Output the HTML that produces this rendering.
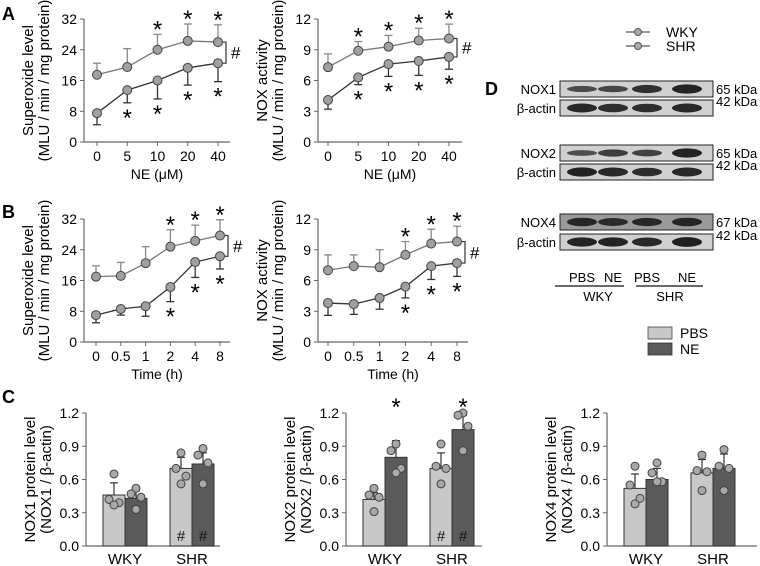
<!DOCTYPE html>
<html><head><meta charset="utf-8"><style>
body{margin:0;background:#fff;}
svg{display:block;font-family:"Liberation Sans",Arial,sans-serif;}
</style></head><body>
<svg id="fig" width="760" height="566" viewBox="0 0 760 566" xmlns="http://www.w3.org/2000/svg">
<g id="static">
<text x="2" y="20" font-size="18" font-weight="bold">A</text>
<text x="2" y="218" font-size="18" font-weight="bold">B</text>
<text x="2" y="403" font-size="18" font-weight="bold">C</text>
<text x="485" y="95" font-size="18" font-weight="bold">D</text>
<g>
<line x1="626" y1="32" x2="650" y2="32" stroke="#555" stroke-width="1.2"/><circle cx="638" cy="32" r="3.5" fill="#aaa" stroke="#555"/>
<text x="666" y="37" font-size="14">WKY</text>
<line x1="626" y1="46" x2="650" y2="46" stroke="#555" stroke-width="1.2"/><circle cx="638" cy="46" r="3.5" fill="#aaa" stroke="#555"/>
<text x="666" y="51" font-size="14">SHR</text>
</g>
<g>
<rect x="648" y="327" width="24" height="12" fill="#c8c8c8" stroke="#444" stroke-width="0.8"/>
<text x="680" y="338" font-size="14">PBS</text>
<rect x="648" y="343" width="24" height="12" fill="#5a5a5a" stroke="#333" stroke-width="0.8"/>
<text x="680" y="354" font-size="14">NE</text>
</g>
</g>
<g id="blots"></g>
<g id="charts"></g>
</svg>
<script>
const NS="http://www.w3.org/2000/svg";
// ---- Line chart data ----
const aDoses=["0","5","10","20","40"];
const aSupUpper=[17.5,19.5,24,26.3,26];
const aSupUpperErr=[3,4.8,4,4.4,4.5];
const aSupLower=[7.5,13.5,16,19.3,20.5];
const aSupLowerErr=[3,3.3,4.8,4.5,4.8];
const aNoxUpper=[7.3,8.9,9.3,9.9,10.1];
const aNoxUpperErr=[1.3,0.9,1.1,1.2,1.4];
const aNoxLower=[4.1,6.3,7.6,7.9,8.3];
const aNoxLowerErr=[0.9,0.7,1.2,1.4,1.2];
const bTimes=["0","0.5","1","2","4","8"];
const bSupUpper=[17,17.2,20.5,24.8,26.3,27.7];
const bSupUpperErr=[2.8,3.5,4.3,4.4,4.1,4.1];
const bSupLower=[7,8.6,9.3,14.3,20.8,22.3];
const bSupLowerErr=[2,1.6,2.6,3.8,4,3.3];
const bNoxUpper=[7,7.4,7.3,8.5,9.6,9.8];
const bNoxUpperErr=[1.5,1.1,1.7,1.3,1.4,1.5];
const bNoxLower=[3.8,3.7,4.3,5.4,7.4,7.7];
const bNoxLowerErr=[1.2,1,1.1,1.1,1.3,1.3];
const supTicks=[0,8,16,24,32];
const noxTicks=[0,3,6,9,12];
// ---- Bar chart data ----
const groups=["WKY","SHR"];
const barTicks=[0.0,0.3,0.6,0.9,1.2];
const nox1Means=[0.46,0.43,0.70,0.74];
const nox1Err=[0.11,0.07,0.10,0.10];
const nox1Dots=[[0.65,0.42,0.39,0.37],[0.52,0.47,0.44,0.33],[0.84,0.70,0.63,0.56],[0.88,0.82,0.75,0.56]];
const nox2Means=[0.42,0.80,0.70,1.05];
const nox2Err=[0.06,0.15,0.14,0.13];
const nox2Dots=[[0.52,0.46,0.44,0.31],[0.92,0.86,0.70,0.66],[0.92,0.72,0.70,0.56],[1.20,1.18,1.08,0.86]];
const nox4Means=[0.52,0.60,0.66,0.70];
const nox4Err=[0.13,0.10,0.12,0.13];
const nox4Dots=[[0.72,0.55,0.43,0.38],[0.75,0.66,0.58,0.58],[0.82,0.68,0.67,0.50],[0.87,0.72,0.70,0.50]];

const charts=document.getElementById('charts');
function el(tag,attrs,parent,text){const e=document.createElementNS(NS,tag);for(const k in attrs)e.setAttribute(k,attrs[k]);if(text!==undefined)e.textContent=text;(parent||charts).appendChild(e);return e;}
function star(g,x,cy){const t=el('text',{x:x,y:cy+13,'font-size':24,'text-anchor':'middle'},g,'*');

}

function lineChart(c){
 const g=el('g',{});
 
 
 const ys=v=>c.yBot-(v-c.ticks[0])/(c.ticks[c.ticks.length-1]-c.ticks[0])*(c.yBot-c.yTop);
 const step=(c.xLast-c.xFirst)/(c.cats.length-1);
 const xs=i=>c.xFirst+i*step;
 el('line',{x1:c.ax,y1:c.yTop,x2:c.ax,y2:c.yBot,stroke:'#666','stroke-width':1.2},g);
 el('line',{x1:c.ax,y1:c.yBot,x2:c.axEnd,y2:c.yBot,stroke:'#666','stroke-width':1.2},g);
 c.ticks.forEach(t=>{el('line',{x1:c.ax-4,y1:ys(t),x2:c.ax,y2:ys(t),stroke:'#666'},g);
  const tl=el('text',{x:c.ax-7,y:ys(t)+5,'font-size':14,'text-anchor':'end'},g,String(t));
  
  });
 c.cats.forEach((t,i)=>{el('line',{x1:xs(i),y1:c.yBot,x2:xs(i),y2:c.yBot+4,stroke:'#666'},g);
  const tl=el('text',{x:xs(i),y:c.yBot+19,'font-size':14,'text-anchor':'middle'},g,t);
  
  });
 const xt=el('text',{x:(c.ax+c.axEnd)/2,y:c.yBot+37,'font-size':14,'text-anchor':'middle'},g,c.xTitle);
 
 
 const my=(c.yTop+c.yBot)/2;
 const yt=el('text',{transform:`translate(${c.ax-51},${my}) rotate(-90)`,'font-size':15,'text-anchor':'middle'},g,c.yTitle1);
 
 
 const yt2=el('text',{transform:`translate(${c.ax-35},${my}) rotate(-90)`,'font-size':15,'text-anchor':'middle'},g,'(MLU / min / mg protein)');
 
 
 c.up.forEach((v,i)=>{const y2=ys(v+c.upErr[i]);el('line',{x1:xs(i),y1:ys(v),x2:xs(i),y2:y2,stroke:'#888','stroke-width':1.3},g);el('line',{x1:xs(i)-4,y1:y2,x2:xs(i)+4,y2:y2,stroke:'#888','stroke-width':1.3},g);});
 c.lo.forEach((v,i)=>{const y2=ys(v-c.loErr[i]);el('line',{x1:xs(i),y1:ys(v),x2:xs(i),y2:y2,stroke:'#333','stroke-width':1.3},g);el('line',{x1:xs(i)-4,y1:y2,x2:xs(i)+4,y2:y2,stroke:'#333','stroke-width':1.3},g);});
 [[c.up,'#777','series-shr'],[c.lo,'#333','series-wky']].forEach(([arr,col,nm])=>{
  const p=el('polyline',{points:arr.map((v,i)=>xs(i)+','+ys(v)).join(' '),fill:'none',stroke:col,'stroke-width':1.3},g);
  
  
  arr.forEach((v,i)=>{const pt=el('circle',{cx:xs(i),cy:ys(v),r:4.5,fill:'#a0a0a0',stroke:'#444','stroke-width':1},g);
   
   });
 });
 c.upStars.forEach(i=>star(g,xs(i),ys(c.up[i]+c.upErr[i])-10));
 c.loStars.forEach(i=>star(g,xs(i),ys(c.lo[i]-c.loErr[i])+10));
 const n=c.up.length-1, bx=xs(n)+8, y1=ys(c.up[n]), y2=ys(c.lo[n]);
 el('polyline',{points:`${bx-3},${y1} ${bx},${y1} ${bx},${y2} ${bx-3},${y2}`,fill:'none',stroke:'#333','stroke-width':1.2},g);
 const h=el('text',{x:bx+5,y:(y1+y2)/2+6,'font-size':17},g,'#');
 
 
}
lineChart({name:'chart-a-superoxide',ax:84,axEnd:230,yTop:19,yBot:142,xFirst:97,xLast:218,cats:aDoses,ticks:supTicks,up:aSupUpper,upErr:aSupUpperErr,lo:aSupLower,loErr:aSupLowerErr,upStars:[2,3,4],loStars:[1,2,3,4],xTitle:'NE (\u03bcM)',yTitle1:'Superoxide level'});
lineChart({name:'chart-a-nox-activity',ax:318,axEnd:462,yTop:19,yBot:142,xFirst:328,xLast:449,cats:aDoses,ticks:noxTicks,up:aNoxUpper,upErr:aNoxUpperErr,lo:aNoxLower,loErr:aNoxLowerErr,upStars:[1,2,3,4],loStars:[1,2,3,4],xTitle:'NE (\u03bcM)',yTitle1:'NOX activity'});
lineChart({name:'chart-b-superoxide',ax:84,axEnd:230,yTop:219,yBot:342,xFirst:96,xLast:220,cats:bTimes,ticks:supTicks,up:bSupUpper,upErr:bSupUpperErr,lo:bSupLower,loErr:bSupLowerErr,upStars:[3,4,5],loStars:[3,4,5],xTitle:'Time (h)',yTitle1:'Superoxide level'});
lineChart({name:'chart-b-nox-activity',ax:318,axEnd:468,yTop:219,yBot:342,xFirst:328,xLast:457,cats:bTimes,ticks:noxTicks,up:bNoxUpper,upErr:bNoxUpperErr,lo:bNoxLower,loErr:bNoxLowerErr,upStars:[3,4,5],loStars:[3,4,5],xTitle:'Time (h)',yTitle1:'NOX activity'});

function barChart(c){
 const g=el('g',{});
 
 
 const yTop=413,yBot=546;
 const ys=v=>yBot-(v-barTicks[0])/(barTicks[barTicks.length-1]-barTicks[0])*(yBot-yTop);
 el('line',{x1:c.ax,y1:yTop,x2:c.ax,y2:yBot,stroke:'#666','stroke-width':1.2},g);
 el('line',{x1:c.ax,y1:yBot,x2:c.axEnd,y2:yBot,stroke:'#666','stroke-width':1.2},g);
 barTicks.forEach(t=>{el('line',{x1:c.ax-4,y1:ys(t),x2:c.ax,y2:ys(t),stroke:'#666'},g);
  const tl=el('text',{x:c.ax-7,y:ys(t)+5,'font-size':14,'text-anchor':'end'},g,t.toFixed(1));
  
  });
 const my=(yTop+yBot)/2;
 const yt=el('text',{transform:`translate(${c.ax-51},${my}) rotate(-90)`,'font-size':15,'text-anchor':'middle'},g,c.p+' protein level');
 
 
 const yt2=el('text',{transform:`translate(${c.ax-35},${my}) rotate(-90)`,'font-size':15,'text-anchor':'middle'},g,'('+c.p+' / \u03b2-actin)');
 
 
 const bw=22, dx=[0,-5,5,0];
 c.means.forEach((m,i)=>{
  const gi=Math.floor(i/2), x=c.ax+17+gi*67+(i%2)*bw;
  const b=el('rect',{x:x,y:ys(m),width:bw,height:yBot-ys(m),fill:i%2?'#5a5a5a':'#c8c8c8',stroke:'#333','stroke-width':1},g);
  
  
  const cx=x+bw/2, ye=ys(m+c.err[i]);
  el('line',{x1:cx,y1:ys(m),x2:cx,y2:ye,stroke:'#333','stroke-width':1.2},g);
  el('line',{x1:cx-4,y1:ye,x2:cx+4,y2:ye,stroke:'#333','stroke-width':1.2},g);
  c.dots[i].forEach((v,k)=>{const d=el('circle',{cx:cx+dx[k],cy:ys(v),r:4,fill:'#a8a8a8',stroke:'#444'},g);
   
   });
  if(c.hash&&gi===1){const h=el('text',{x:cx,y:yBot-5,'font-size':15,'text-anchor':'middle',fill:'#111'},g,'#');
   
   }
  if(c.stars&&i%2===1)star(g,cx,402);
  if(i%2===0){const gl=el('text',{x:x+bw,y:yBot+18,'font-size':15,'text-anchor':'middle'},g,groups[gi]);
   
   }
 });
}
barChart({name:'chart-c-nox1',ax:86,axEnd:220,p:'NOX1',means:nox1Means,err:nox1Err,dots:nox1Dots,hash:true,stars:false});
barChart({name:'chart-c-nox2',ax:346,axEnd:482,p:'NOX2',means:nox2Means,err:nox2Err,dots:nox2Dots,hash:true,stars:true});
barChart({name:'chart-c-nox4',ax:607,axEnd:757,p:'NOX4',means:nox4Means,err:nox4Err,dots:nox4Dots,hash:false,stars:false});

// ---- Western blots ----
const blotRows=["NOX1","\u03b2-actin","NOX2","\u03b2-actin","NOX4","\u03b2-actin"];
const blotKda=["65 kDa","42 kDa","65 kDa","42 kDa","67 kDa","42 kDa"];
const blotTops=[81,100,145,164,214,234];
const bandWidths=[[0.45,0.5,0.75,0.9],[0.85,0.8,0.8,0.85],[0.4,0.6,0.55,0.9],[0.9,0.85,0.8,0.85],[0.8,0.7,0.75,0.8],[0.9,0.9,0.85,0.95]];
const blots=document.getElementById('blots');
const bandX=[582,613,647,687];
blotRows.forEach((r,i)=>{
 const y=blotTops[i];
 const bg=el('rect',{x:560,y:y,width:153,height:16,fill:i===4?'#9a9a9a':'#d0d0d0',stroke:'#222','stroke-width':1},blots);
 
 
 bandX.forEach((bx,k)=>{const w=bandWidths[i][k];
  const band=el('ellipse',{cx:bx,cy:y+8,rx:15,ry:1.5+3.5*w,fill:'#111',opacity:0.5+0.45*w},blots);
  
  });
 const lb=el('text',{x:556,y:y+13,'font-size':13,'text-anchor':'end'},blots,r);
 
 
 const kd=el('text',{x:716,y:i%2?y+6:y+13,'font-size':13},blots,blotKda[i]);
 
 
});
[["PBS",582],["NE",613],["PBS",647],["NE",687]].forEach(([t,x])=>{const l=el('text',{x:x,y:282,'font-size':13,'text-anchor':'middle'},blots,t);
 
 });
el('line',{x1:555,y1:286,x2:624,y2:286,stroke:'#111','stroke-width':1.2},blots);
el('line',{x1:636,y1:286,x2:703,y2:286,stroke:'#111','stroke-width':1.2},blots);
[["WKY",598],["SHR",670]].forEach(([t,x])=>{const l=el('text',{x:x,y:301,'font-size':13,'text-anchor':'middle'},blots,t);
 
 });
</script>
</body></html>
